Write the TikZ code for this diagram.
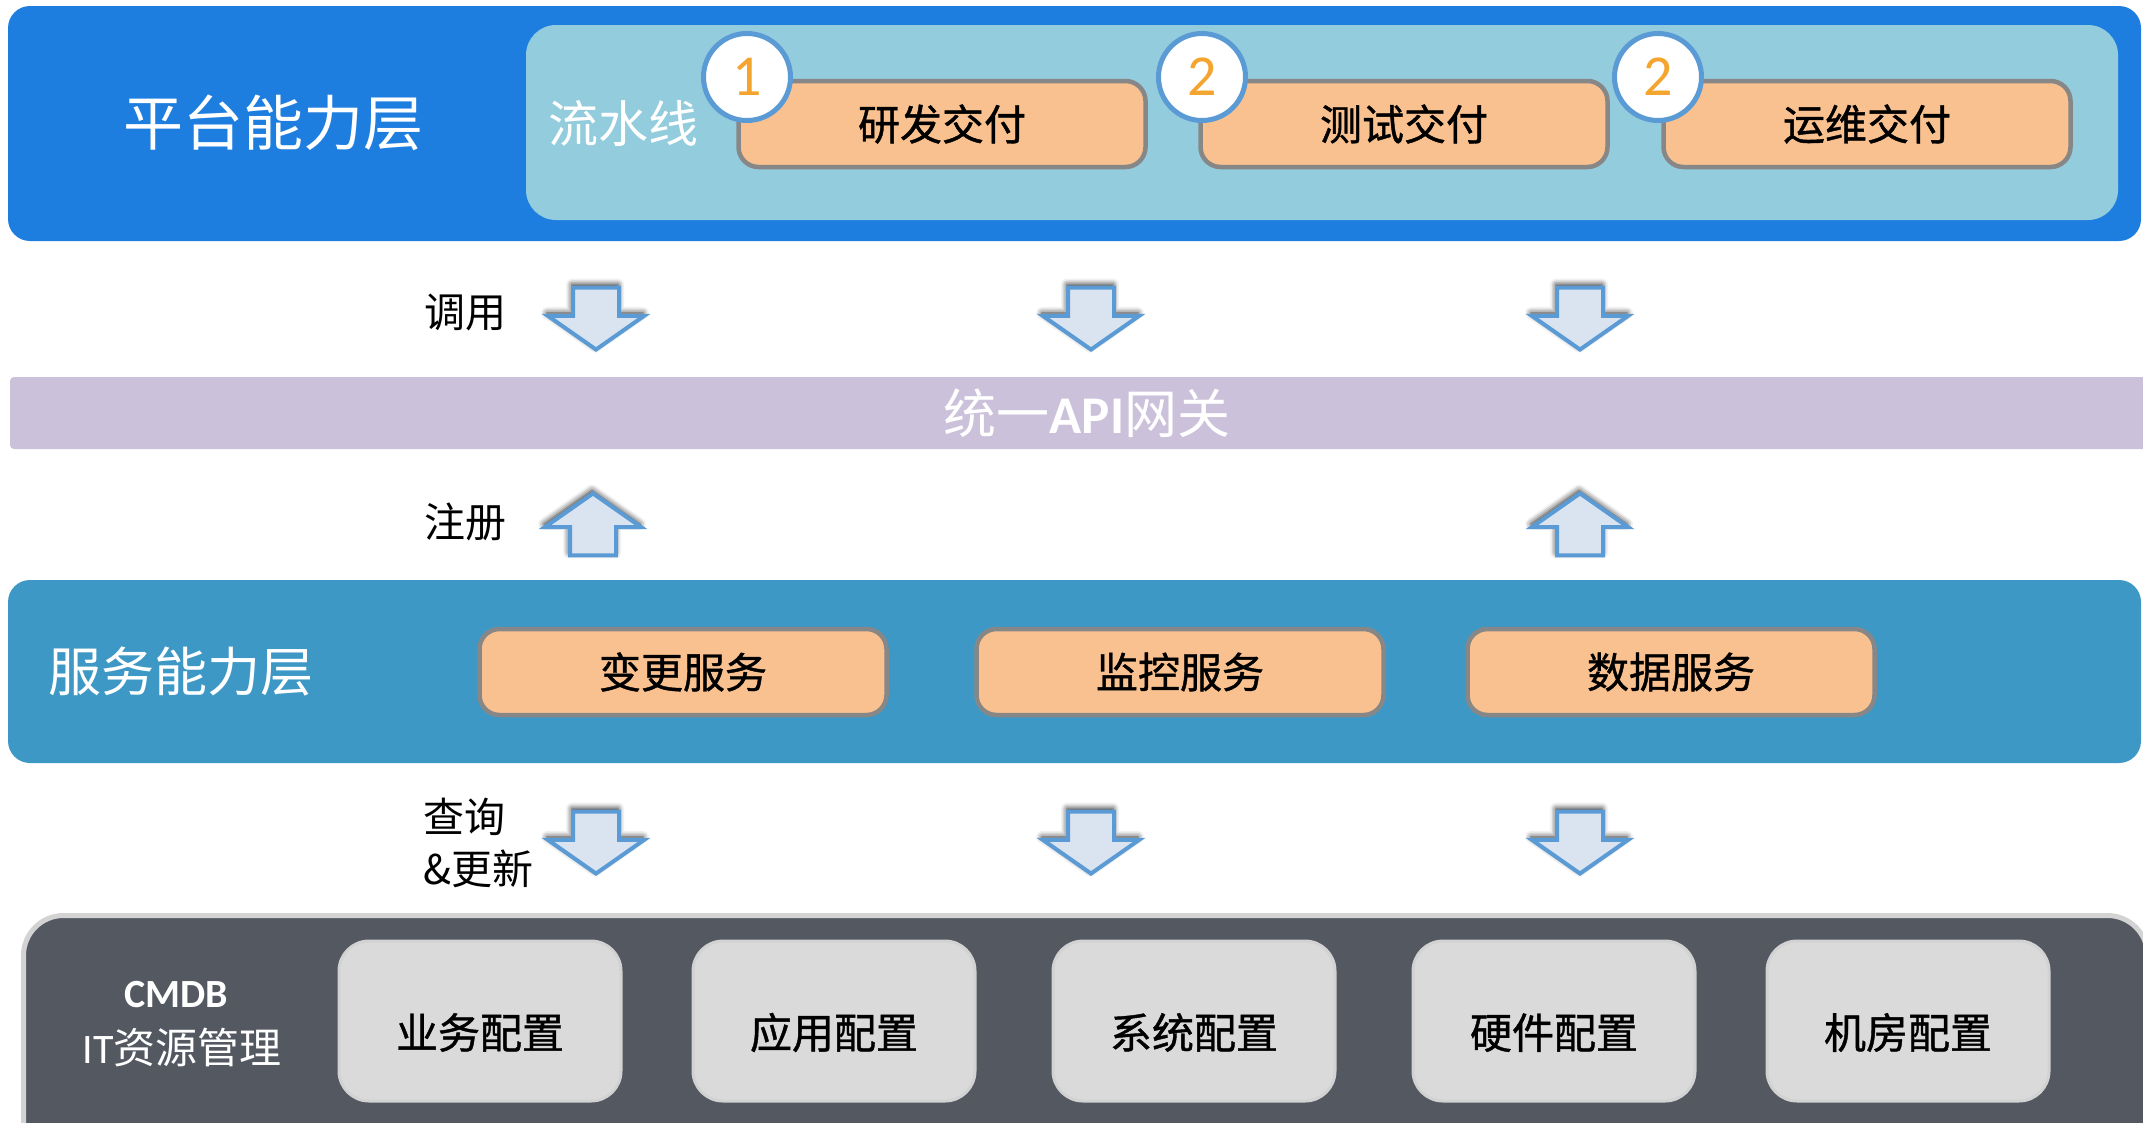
\documentclass[tikz,border=0pt]{standalone}
\usepackage{fontspec}
\setmainfont{Noto Sans CJK SC}
\newfontfamily\calfont{Carlito}
\usetikzlibrary{shapes.arrows,shadows.blur}

\definecolor{topblue}{HTML}{1E7EE0}
\definecolor{pipeblue}{HTML}{93CCDD}
\definecolor{svcblue}{HTML}{3E98C6}
\definecolor{apipurple}{HTML}{CBC1DA}
\definecolor{cmdbgray}{HTML}{535861}
\definecolor{cmdbline}{HTML}{D3D3D3}
\definecolor{peach}{HTML}{F9C18F}
\definecolor{boxgray}{HTML}{878787}
\definecolor{cfgfill}{HTML}{DADADA}
\definecolor{cfgline}{HTML}{D2D2D2}
\definecolor{arrowfill}{HTML}{DAE3F0}
\definecolor{arrowline}{HTML}{5B9BD5}
\definecolor{numorange}{HTML}{F4A52F}

\newcommand{\fsz}[1]{\fontsize{#1}{#1}\selectfont}

\tikzset{
  layer/.style={rounded corners=22pt, inner sep=0pt},
  task/.style={draw=boxgray, line width=4.5pt, fill=peach, rounded corners=20pt,
    minimum width=407pt, minimum height=86pt, font=\fsz{42}\addfontfeature{FakeBold=1}},
  cfg/.style={draw=cfgline, line width=3pt, fill=cfgfill, rounded corners=30pt,
    minimum width=282pt, minimum height=160pt, text height=60pt, text depth=5pt,
    font=\fsz{42}\addfontfeature{FakeBold=1}},
  num/.style={circle, draw=arrowline, line width=5pt, fill=white, minimum size=87pt,
    inner sep=0pt, text=numorange, font=\calfont\fsz{58}},
  blockarrow/.style={shape=single arrow, fill=arrowfill, draw=arrowline, line width=4pt,
    inner xsep=0pt, inner ysep=21pt, single arrow head extend=25pt,
    single arrow tip angle=110, minimum height=62pt, minimum width=0pt, anchor=tip,
    blur shadow={shadow xshift=-1pt, shadow yshift=3pt, shadow blur radius=6pt, shadow opacity=90}},
  dn/.style={blockarrow, rotate=-90},
  up/.style={blockarrow, rotate=90}
}

\begin{document}
\begin{tikzpicture}[x=1pt, y=-1pt]
\newcommand{\xa}{596}
\newcommand{\xb}{1091}
\newcommand{\xc}{1580}
\useasboundingbox (0,0) rectangle (2143,1122);
%%%%%%%%%%%%%%% platform layer
\node[layer, fill=topblue, minimum width=2133pt, minimum height=235pt] (pf) at (1074.5,123.5) {};
\node[layer, rounded corners=30pt, fill=pipeblue, minimum width=1592pt, minimum height=195pt] (pipe) at (1322,122.5) {};
\node[text=white, font=\fsz{60}] (pft) at (273,123) {平台能力层};
\node[text=white, font=\fsz{50}] (pipet) at (623,123) {流水线};
\node[task] (t1) at (942,124) {研发交付};
\node[task] (t2) at (1404,124) {测试交付};
\node[task] (t3) at (1867,124) {运维交付};
\node[num] (n1) at (747,77) {1};
\node[num] (n2) at (1202,77) {2};
\node[num] (n3) at (1658,77) {2};
%%%%%%%%%%%%%%% call
\node[font=\fsz{41}] (call) at (465,312) {调用};
\node[dn] (d1) at (\xa,352) {};
\node[dn] (d2) at (\xb,352) {};
\node[dn] (d3) at (\xc,352) {};
%%%%%%%%%%%%%%% gateway
\node[layer, rounded corners=4pt, fill=apipurple, minimum width=2160pt, minimum height=72pt] (api) at (1090,413) {};
\node[text=white, font=\fsz{53}] (apit) at (1087,413) {统一{\calfont\bfseries API}网关};
%%%%%%%%%%%%%%% register
\node[font=\fsz{41}] (reg) at (465,522) {注册};
\node[up] (u1) at (593,491) {};
\node[up] (u2) at (\xc,491) {};
%%%%%%%%%%%%%%% service layer
\node[layer, fill=svcblue, minimum width=2133pt, minimum height=183pt] (svc) at (1074.5,671.5) {};
\node[text=white, font=\fsz{53}] (svct) at (181,672) {服务能力层};
\node[task] (s1) at (683,672) {变更服务};
\node[task] (s2) at (1180,672) {监控服务};
\node[task] (s3) at (1671,672) {数据服务};
%%%%%%%%%%%%%%% query
\node[align=left, anchor=west, font={\fontsize{41}{52}\selectfont}] (qry) at (420,843) {查询\\\&更新};
\node[dn] (q1) at (\xa,876) {};
\node[dn] (q2) at (\xb,876) {};
\node[dn] (q3) at (\xc,876) {};
%%%%%%%%%%%%%%% cmdb
\node[layer, rounded corners=40pt, draw=cmdbline, line width=5pt, fill=cmdbgray,
  minimum width=2124pt, minimum height=280pt] (cmdb) at (1085.5,1055.5) {};
\node[text=white, font=\calfont\bfseries\fsz{40}] (cmdbt) at (176,995) {CMDB};
\node[text=white, font=\fsz{42}] (itt) at (182,1047) {{\calfont IT}资源管理};
\node[cfg] (c1) at (480,1021) {业务配置};
\node[cfg] (c2) at (834,1021) {应用配置};
\node[cfg] (c3) at (1194,1021) {系统配置};
\node[cfg] (c4) at (1554,1021) {硬件配置};
\node[cfg] (c5) at (1908,1021) {机房配置};
\end{tikzpicture}
\end{document}
